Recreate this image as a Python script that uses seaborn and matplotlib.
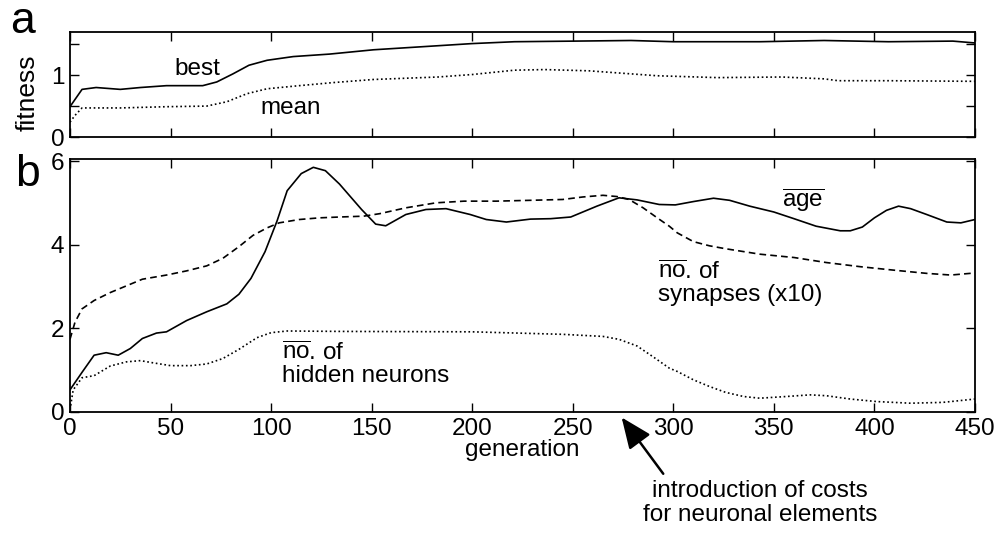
import numpy as np
import matplotlib
matplotlib.use("Agg")
import matplotlib.pyplot as plt
import seaborn as sns

# --- 資料 ---
# a: fitness
best_gen = [0, 6, 13, 25, 35, 48, 66, 73, 81, 89, 98, 111, 129, 151, 200, 221, 251, 279, 300, 343, 375, 407, 439, 450]
best_val = [0.49, 0.77, 0.80, 0.77, 0.80, 0.83, 0.83, 0.89, 1.02, 1.16, 1.24, 1.30, 1.34, 1.41, 1.51, 1.54, 1.55, 1.56, 1.54, 1.54, 1.56, 1.54, 1.55, 1.52]
mean_gen = [0, 2.5, 6, 25, 48, 68, 78, 88, 98, 114, 131, 151, 183, 200, 221, 236, 258, 275, 292, 322, 354, 375, 382, 407, 450]
mean_val = [0.24, 0.35, 0.47, 0.47, 0.49, 0.50, 0.57, 0.70, 0.78, 0.83, 0.88, 0.93, 0.97, 1.01, 1.08, 1.09, 1.07, 1.03, 0.99, 0.96, 0.97, 0.94, 0.91, 0.91, 0.90]

# b: age, synapses, hidden neurons
age_gen = [0, 6, 12, 18, 24, 30, 36, 43, 48, 58, 68, 78, 84, 90, 97, 103, 108, 115, 121, 127, 134, 145, 152, 157, 167,
           177, 187, 199, 207, 217, 229, 239, 249, 262, 273, 282, 293, 301, 310, 320, 328, 338, 350, 360, 371, 383,
           388, 394, 400, 406, 412, 418, 426, 436, 443, 450]
age_val = [0.53, 0.95, 1.36, 1.42, 1.36, 1.52, 1.76, 1.89, 1.92, 2.19, 2.40, 2.59, 2.82, 3.20, 3.84, 4.58, 5.30, 5.71,
           5.86, 5.78, 5.46, 4.85, 4.50, 4.46, 4.73, 4.85, 4.87, 4.73, 4.61, 4.55, 4.62, 4.63, 4.67, 4.93, 5.13, 5.08,
           4.97, 4.96, 5.04, 5.12, 5.07, 4.93, 4.79, 4.63, 4.45, 4.34, 4.34, 4.43, 4.65, 4.83, 4.93, 4.87, 4.73, 4.55,
           4.53, 4.61]
syn_gen = [0, 2.5, 6, 12, 20, 28, 36, 48, 58, 68, 76, 84, 91, 98, 104, 114, 124, 134, 146, 154, 167, 182, 196, 212,
           229, 245, 255, 265, 272, 278, 285, 292, 298, 302, 310, 318, 326, 343, 360, 376, 393, 409, 426, 438, 450]
syn_val = [1.74, 2.15, 2.47, 2.67, 2.86, 3.02, 3.18, 3.28, 3.38, 3.50, 3.68, 3.96, 4.23, 4.41, 4.53, 4.61, 4.65, 4.67,
           4.69, 4.75, 4.89, 5.01, 5.05, 5.05, 5.07, 5.09, 5.15, 5.19, 5.16, 5.09, 4.89, 4.65, 4.45, 4.29, 4.08, 3.98,
           3.91, 3.78, 3.70, 3.58, 3.48, 3.40, 3.32, 3.28, 3.33]
hid_gen = [0, 1.6, 6, 12, 20, 28, 35, 41, 50, 60, 68, 76, 84, 93, 100, 108, 134, 200, 245, 265, 273, 282, 290, 298,
           302, 310, 318, 326, 335, 343, 356, 368, 376, 388, 401, 418, 434, 450]
hid_val = [0.05, 0.53, 0.82, 0.87, 1.10, 1.20, 1.23, 1.18, 1.11, 1.11, 1.15, 1.28, 1.50, 1.78, 1.90, 1.94, 1.93, 1.92,
           1.86, 1.81, 1.74, 1.58, 1.32, 1.05, 0.97, 0.77, 0.61, 0.47, 0.37, 0.33, 0.37, 0.41, 0.39, 0.31, 0.25, 0.21,
           0.23, 0.31]

# --- 樣式 ---
sns.set_style("ticks")
plt.rcParams['font.family'] = ['Liberation Sans', 'DejaVu Sans']
plt.rcParams['mathtext.fontset'] = 'custom'
plt.rcParams['mathtext.rm'] = 'Liberation Sans'
plt.rcParams['mathtext.it'] = 'Liberation Sans:italic'
for k in ['text.color', 'axes.labelcolor', 'xtick.color', 'ytick.color', 'axes.edgecolor']:
    plt.rcParams[k] = 'black'
fs = 17.5

fig = plt.figure(figsize=(10.01, 5.34), dpi=100)
ax1 = fig.add_axes([0.0699, 0.7434, 0.9041, 0.197])
ax2 = fig.add_axes([0.0699, 0.2285, 0.9041, 0.473])

dotted = (0, (1, 1.6))
sns.lineplot(x=best_gen, y=best_val, ax=ax1, color='black', lw=1.2)
sns.lineplot(x=mean_gen, y=mean_val, ax=ax1, color='black', lw=1.2, linestyle=dotted)
sns.lineplot(x=age_gen, y=age_val, ax=ax2, color='black', lw=1.2)
sns.lineplot(x=syn_gen, y=syn_val, ax=ax2, color='black', lw=1.2, linestyle=(0, (4, 2.5)))
sns.lineplot(x=hid_gen, y=hid_val, ax=ax2, color='black', lw=1.2, linestyle=dotted)

for ax in (ax1, ax2):
    ax.set_xlim(0, 450)
    ax.set_xticks(range(0, 451, 50))
    ax.tick_params(direction='in', top=True, right=True, length=6.5, width=1,
                   labelsize=fs, pad=4)
    for s in ax.spines.values():
        s.set_linewidth(1.3)
        s.set_visible(True)

ax1.set_ylim(0, 1.7)
ax1.set_yticks([0, 0.5, 1, 1.5])
ax1.set_yticklabels(['0', '', '1', ''])
ax1.set_xticklabels([])
ax1.set_xlabel('')
ax1.set_ylabel('fitness', fontsize=19)
ax1.yaxis.set_label_coords(-0.034, 0.42)

ax2.set_ylim(0, 6.05)
ax2.set_yticks([0, 2, 4, 6])
ax2.set_xlabel('generation', fontsize=fs)
ax2.xaxis.set_label_coords(0.5, -0.108)

# 標籤
ax1.text(52, 1.0, 'best', fontsize=fs, va='baseline')
ax1.text(94.5, 0.38, 'mean', fontsize=fs, va='baseline')
ax2.text(354, 4.89, r'$\overline{\mathrm{age}}$', fontsize=fs, va='baseline')
ax2.text(292.5, 2.67, r'$\overline{\mathrm{no}}$. of' + '\nsynapses (x10)', fontsize=fs,
         va='baseline', linespacing=1.0)
ax2.text(105.5, 0.73, r'$\overline{\mathrm{no}}$. of' + '\nhidden neurons', fontsize=fs,
         va='baseline', linespacing=1.0)

ax2.annotate('', xy=(274.3, -0.13), xytext=(295, -1.48), xycoords='data',
             arrowprops=dict(arrowstyle='-|>,head_length=0.95,head_width=0.4', color='black',
                             lw=1.8, shrinkA=0, shrinkB=0, mutation_scale=20),
             annotation_clip=False)
ax2.text(343, -2.18, 'introduction of costs\nfor neuronal elements', fontsize=fs,
         ha='center', va='center', linespacing=1.1, clip_on=False)

fig.text(10 / 1001, 1 - 33 / 534, 'a', fontsize=32, va='baseline')
fig.text(15 / 1001, 1 - 186 / 534, 'b', fontsize=32, va='baseline')

fig.savefig('out.png', dpi=100)
